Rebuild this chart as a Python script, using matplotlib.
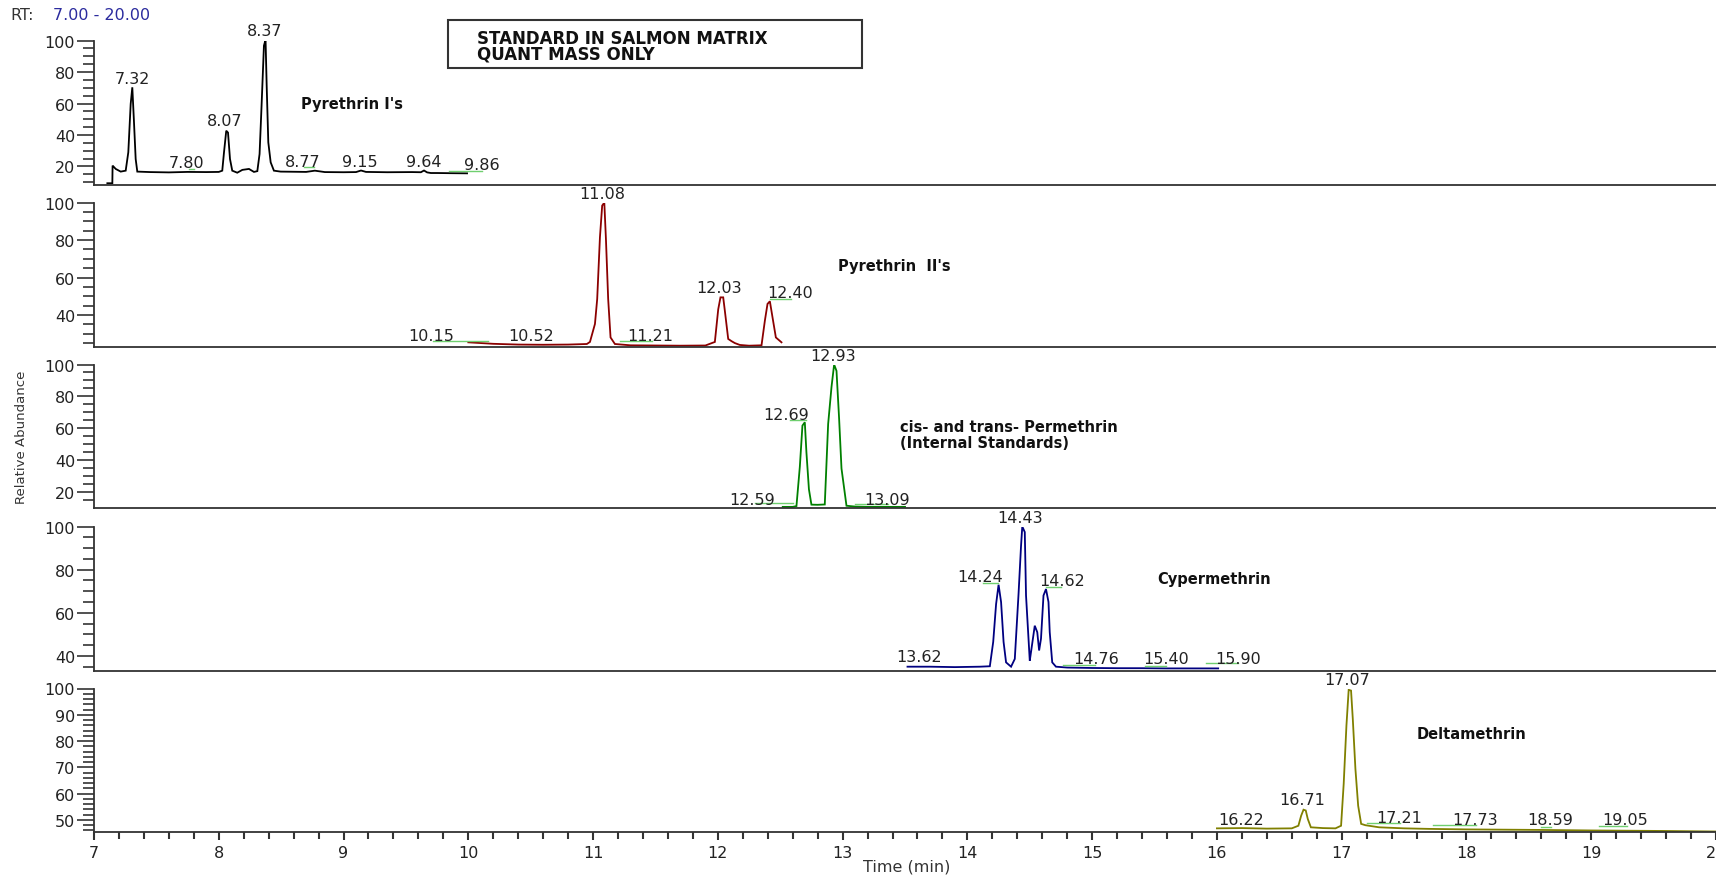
import matplotlib
matplotlib.use("Agg")
import matplotlib.pyplot as plt
from matplotlib.patches import Rectangle
from matplotlib.ticker import MultipleLocator

plt.rcParams["font.family"] = "DejaVu Sans"

W, H = 1716, 879
INK = "#222222"
GREEN_MARK = "#6fcf6f"

# ---- data (time in min, relative abundance) ----
t1 = [7.107, 7.147, 7.149, 7.174, 7.214, 7.254, 7.275, 7.294, 7.307, 7.32, 7.334, 7.347,
      7.45, 7.60, 7.75, 7.90, 8.00, 8.028, 8.042, 8.06, 8.074, 8.09, 8.108, 8.148, 8.189,
      8.242, 8.282, 8.309, 8.327, 8.343, 8.362, 8.375, 8.384, 8.397, 8.416, 8.442, 8.496,
      8.60, 8.70, 8.77, 8.85, 9.00, 9.10, 9.14, 9.18, 9.35, 9.55, 9.62, 9.645, 9.67, 9.70,
      9.75, 9.85, 9.99]
v1 = [9.3, 9.3, 20.5, 18.4, 16.7, 17.3, 29, 59.7, 70.3, 49, 24.7, 16.7,
      16.4, 16.2, 16.5, 16.4, 16.5, 17.3, 29, 42.7, 41.5, 24.7, 17.3, 16, 17.8,
      18.4, 16.5, 17.0, 27.9, 58.6, 96.8, 100.5, 71.3, 35.3, 22.6, 17.3, 16.7,
      16.6, 16.5, 17.3, 16.4, 16.3, 16.4, 17.4, 16.5, 16.3, 16.4, 16.3, 17.4, 16.2, 15.8,
      15.8, 15.7, 15.6]

t2 = [10.0, 10.2, 10.4, 10.6, 10.8, 10.95, 10.975, 11.015, 11.033, 11.055, 11.073, 11.09,
      11.103, 11.121, 11.14, 11.175, 11.3, 11.5, 11.7, 11.9, 11.976, 12.003, 12.021, 12.043,
      12.056, 12.083, 12.11, 12.136, 12.176, 12.25, 12.35, 12.377, 12.398, 12.417, 12.438,
      12.465, 12.51]
v2 = [25.4, 24.6, 24.2, 24.1, 24.2, 24.5, 25.6, 35.2, 48.5, 81.5, 98.4, 100,
      80.6, 48.5, 28, 24.5, 23.8, 23.7, 23.6, 23.7, 25.6, 43, 49.4, 49.4,
      42.3, 27.2, 26, 25, 24, 23.6, 23.8, 37, 45.9, 47.3, 38.8,
      28, 25.4]

t3 = [12.52, 12.60, 12.63, 12.657, 12.678, 12.697, 12.71, 12.73, 12.75, 12.80, 12.857,
      12.884, 12.911, 12.932, 12.951, 12.972, 12.991, 13.031, 13.1, 13.2, 13.35, 13.50]
v3 = [11.0, 11.0, 11.5, 36, 61.8, 63.9, 45, 22, 12.4, 12.3, 12.5,
      62.8, 86, 100, 96, 66, 35, 11.7, 11.2, 11.0, 11.0, 11.0]

t4 = [13.52, 13.7, 13.9, 14.1, 14.18, 14.207, 14.23, 14.25, 14.27, 14.29, 14.31, 14.35,
      14.38, 14.41, 14.43, 14.44, 14.46, 14.47, 14.50, 14.51, 14.54, 14.56, 14.575, 14.59,
      14.61, 14.63, 14.65, 14.66, 14.68, 14.71, 14.8, 15.0, 15.2, 15.4, 15.6, 15.8, 16.01]
v4 = [35, 35, 34.8, 35, 35.2, 46.5, 64, 73, 65, 46.5, 37, 35,
      38.6, 68.7, 91, 100, 97.4, 68, 37.8, 41.8, 54, 51, 42.5, 48,
      68, 71, 65, 51, 37, 35, 34.6, 34.4, 34.3, 34.3, 34.2, 34.2, 34.2]

t5 = [16.0, 16.2, 16.4, 16.6, 16.653, 16.675, 16.694, 16.712, 16.728, 16.753, 16.85, 16.95,
      16.995, 17.016, 17.038, 17.056, 17.075, 17.089, 17.11, 17.132, 17.156, 17.19, 17.3,
      17.5, 17.7, 18.0, 18.3, 18.6, 19.0, 19.3, 19.6, 20.0]
v5 = [46.8, 46.9, 46.7, 46.8, 47.8, 51.6, 53.9, 53.6, 50.4, 47.2, 46.9, 46.8,
      47.8, 63.7, 85.9, 99.5, 99.2, 88.4, 69.4, 55.4, 48.5, 48.0, 47.2,
      46.8, 46.6, 46.4, 46.3, 46.2, 46.0, 45.9, 45.8, 45.6]

# peak labels: (text, time, level)
labels1 = [("7.32", 7.307, 76), ("7.80", 7.74, 22.8), ("8.07", 8.047, 49), ("8.37", 8.368, 106.3),
           ("8.77", 8.67, 23.3), ("9.15", 9.13, 23.3), ("9.64", 9.64, 23.3), ("9.86", 10.11, 21.5)]
labels2 = [("10.15", 9.70, 28.9), ("10.52", 10.50, 28.9), ("11.08", 11.073, 105),
           ("11.21", 11.46, 28.9), ("12.03", 12.008, 54.8), ("12.40", 12.58, 52.1)]
labels3 = [("12.59", 12.276, 15.5), ("12.69", 12.55, 69), ("12.93", 12.925, 105.5),
           ("13.09", 13.357, 15.5)]
labels4 = [("13.62", 13.61, 39.5), ("14.24", 14.10, 77), ("14.43", 14.42, 104),
           ("14.62", 14.76, 75), ("14.76", 15.03, 38.6), ("15.40", 15.59, 38.6),
           ("15.90", 16.17, 38.6)]
labels5 = [("16.22", 16.196, 50.1), ("16.71", 16.68, 57.6), ("17.07", 17.043, 103.6),
           ("17.21", 17.46, 51), ("17.73", 18.07, 50.1), ("18.59", 18.675, 50.1),
           ("19.05", 19.27, 50.1)]

# green baseline marks: (t start, t end, level)
marks1 = [(7.761, 7.801, 18.4), (8.683, 8.763, 19.4), (9.845, 10.11, 17.3)]
marks2 = [(9.72, 10.16, 26.3), (11.215, 11.47, 26.3), (12.417, 12.59, 48.5)]
marks3 = [(12.297, 12.604, 13.2), (12.578, 12.706, 65.3), (13.098, 13.365, 12.8)]
marks4 = [(14.126, 14.247, 74), (14.628, 14.754, 72), (14.767, 15.021, 36),
          (15.42, 15.595, 35.5), (15.916, 16.17, 36.5)]
marks5 = [(17.2, 17.47, 48.7), (17.73, 18.08, 48), (18.6, 18.68, 47.3), (19.06, 19.29, 47.7)]

panels = [
    dict(t=t1, v=v1, color="#000000", ymin=8.5, minor=5, ticks=[20, 40, 60, 80, 100],
         labels=labels1, marks=marks1, top=41.6, bot=185.5),
    dict(t=t2, v=v2, color="#8b0000", ymin=22.9, minor=5, ticks=[40, 60, 80, 100],
         labels=labels2, marks=marks2, top=203.6, bot=348),
    dict(t=t3, v=v3, color="#008000", ymin=10.3, minor=5, ticks=[20, 40, 60, 80, 100],
         labels=labels3, marks=marks3, top=365.5, bot=509),
    dict(t=t4, v=v4, color="#000080", ymin=33, minor=5, ticks=[40, 60, 80, 100],
         labels=labels4, marks=marks4, top=527.5, bot=672),
    dict(t=t5, v=v5, color="#808000", ymin=45.3, minor=2, ticks=[50, 60, 70, 80, 90, 100],
         labels=labels5, marks=marks5, top=689.5, bot=833.3),
]

fig = plt.figure(figsize=(W / 100, H / 100), dpi=100)
fig.patch.set_facecolor("white")
left = 94 / W
FS = 11.5

for i, p in enumerate(panels):
    ax = fig.add_axes([left, 1 - p["bot"] / H, 1 - left, (p["bot"] - p["top"]) / H])
    ax.plot(p["t"], p["v"], color=p["color"], lw=1.3, solid_joinstyle="miter")
    for (a, b, lev) in p["marks"]:
        ax.plot([a, b], [lev, lev], color=GREEN_MARK, lw=1.0, clip_on=False)
    for (txt, x, y) in p["labels"]:
        ax.text(x, y, txt, ha="center", va="center", fontsize=FS, color=INK, clip_on=False)
    ax.set_xlim(7, 20)
    ax.set_ylim(p["ymin"], 100)
    ax.set_yticks(p["ticks"])
    ax.yaxis.set_minor_locator(MultipleLocator(p["minor"]))
    for s in ("top", "right"):
        ax.spines[s].set_visible(False)
    for s in ("left", "bottom"):
        ax.spines[s].set_color("#333333")
        ax.spines[s].set_linewidth(1.3)
    ax.tick_params(axis="y", which="major", direction="out", length=12, width=1.2,
                   labelsize=FS, pad=1.5, colors="#333333", labelcolor=INK)
    ax.tick_params(axis="y", which="minor", direction="out", length=8, width=1.2, colors="#333333")
    if i < 4:
        ax.tick_params(axis="x", which="both", bottom=False, labelbottom=False)
    else:
        ax.xaxis.set_major_locator(MultipleLocator(1))
        ax.xaxis.set_minor_locator(MultipleLocator(0.2))
        ax.tick_params(axis="x", which="major", direction="out", length=6, width=1.5,
                       labelsize=FS, pad=3, colors="#333333", labelcolor=INK)
        ax.tick_params(axis="x", which="minor", direction="out", length=5, width=1.5,
                       colors="#333333")


def ftext(x, y, s, **kw):
    fig.text(x / W, 1 - y / H, s, **kw)


# ---- compound names ----
bold = dict(fontsize=10.5, fontweight="bold", color="#111111", va="center", ha="left")
ftext(301, 105, "Pyrethrin I's", **bold)
ftext(838, 266, "Pyrethrin  II's", **bold)
ftext(900, 427, "cis- and trans- Permethrin", **bold)
ftext(900, 444, "(Internal Standards)", **bold)
ftext(1157, 580, "Cypermethrin", **bold)
ftext(1417, 735, "Deltamethrin", **bold)

# ---- header ----
ftext(10, 16, "RT:", fontsize=FS, color="#333333", va="center")
ftext(53, 16, "7.00 - 20.00", fontsize=FS, color="#2b2b9e", va="center")

fig.add_artist(Rectangle((448 / W, 1 - 69.3 / H), (862 - 448) / W, (69.3 - 20.7) / H,
                         transform=fig.transFigure, fill=False, ec="#333333", lw=1.5))
ftext(477, 38.5, "STANDARD IN SALMON MATRIX", fontsize=12, fontweight="bold", color="#111111", va="center")
ftext(477, 54, "QUANT MASS ONLY", fontsize=12, fontweight="bold", color="#111111", va="center")

# ---- axis titles ----
ftext(22, 437, "Relative Abundance", fontsize=9.5, color="#333333", rotation=90,
      ha="center", va="center")
ftext(907, 867, "Time (min)", fontsize=FS, color="#333333", ha="center", va="center")

fig.savefig("out.png", dpi=100, facecolor="white")
